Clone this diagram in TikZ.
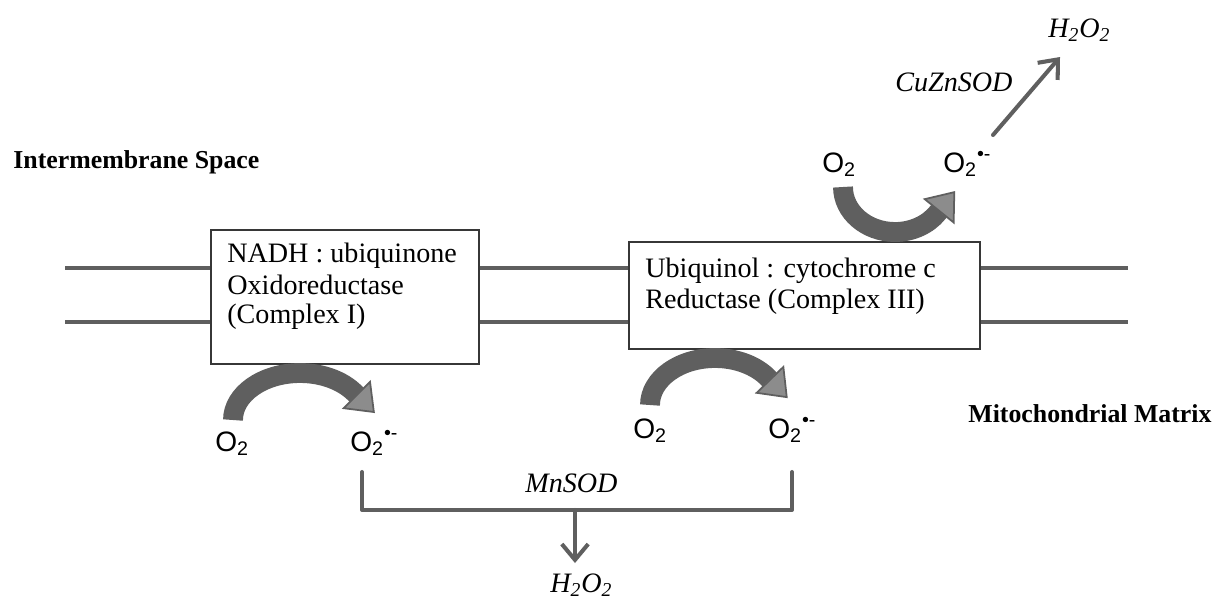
\documentclass[tikz,border=0pt]{standalone}
\usepackage{fontspec}
\setmainfont{Liberation Serif}
\newfontfamily\osans{Liberation Sans}
\usetikzlibrary{arrows.meta}
\definecolor{lg}{RGB}{95,95,95}
\definecolor{bx}{RGB}{55,55,55}
\definecolor{hd}{RGB}{140,140,140}
\tikzset{
 mem/.style={draw=lg, line width=2.3pt},
 cbox/.style={draw=bx, line width=0.9pt, fill=white, inner sep=0pt},
 btxt/.style={anchor=base west, inner sep=0pt, font=\fontsize{16}{18}\selectfont},
 side/.style={anchor=base west, inner sep=0pt, font=\bfseries\fontsize{14.7}{17}\selectfont},
 oxy/.style={anchor=base west, inner sep=0pt, font=\osans\fontsize{16}{18}\selectfont},
 enz/.style={anchor=base west, inner sep=0pt, font=\itshape\fontsize{16}{18}\selectfont},
 bendarrow/.style={draw=lg, line width=11.3pt, -{Triangle[width=23pt,length=15pt,line width=1pt,color=lg,fill=hd]}},
 thinline/.style={draw=lg, line width=2.3pt, line cap=round, line join=round},
 barb/.style={thinline, -{Straight Barb[width=15pt,length=9pt,line width=2.3pt]}}
}
\begin{document}
\begin{tikzpicture}[x=0.02cm,y=-0.02cm]
\useasboundingbox (0,0) rectangle (1219,603);
% complexes
\node[cbox, minimum width=5.36cm, minimum height=2.68cm] (b1) at (345,297) {};
\node[cbox, minimum width=7.02cm, minimum height=2.14cm] (b3) at (804.5,295.5) {};
% membrane
\coordinate (mlA) at (65,268); \coordinate (mlB) at (65,322);
\coordinate (mrA) at (1128,268); \coordinate (mrB) at (1128,322);
\draw[mem] (mlA) -- (b1.west |- mlA);
\draw[mem] (mlB) -- (b1.west |- mlB);
\draw[mem] (b1.east |- mlA) -- (b3.west |- mlA);
\draw[mem] (b1.east |- mlB) -- (b3.west |- mlB);
\draw[mem] (b3.east |- mrA) -- (mrA);
\draw[mem] (b3.east |- mrB) -- (mrB);
% box texts
\node[btxt] (t1a) at (227,262) {NADH : ubiquinone};
\node[btxt] (t1b) at (227,294) {Oxidoreductase};
\node[btxt] (t1c) at (227,323) {(Complex I)};
\node[btxt] (t3a) at (645,277) {Ubiquinol : cytochrome c};
\node[btxt] (t3b) at (645,308) {Reductase (Complex III)};
% side labels
\node[side] (ims) at (13,168) {Intermembrane Space};
\node[side] (mm) at (968,422) {Mitochondrial Matrix};
% oxygen labels
\node[oxy] (o1) at (215,451) {O\textsubscript{2}};
\node[oxy] (s1) at (350,451) {O\textsubscript{2}\textsuperscript{•-}};
\node[oxy] (o3) at (633,438) {O\textsubscript{2}};
\node[oxy] (s3) at (768,438) {O\textsubscript{2}\textsuperscript{•-}};
\node[oxy] (o0) at (822,172) {O\textsubscript{2}};
\node[oxy] (s0) at (943,172) {O\textsubscript{2}\textsuperscript{•-}};
% enzymes and products
\node[enz] (mn) at (525,492) {MnSOD};
\node[enz] (cz) at (895,91) {CuZnSOD};
\node[enz] (h2b) at (550,592) {H\textsubscript{2}O\textsubscript{2}};
\node[enz] (h2t) at (1048,37) {H\textsubscript{2}O\textsubscript{2}};
% curved arrows
\coordinate (a1) at (233,420);
\draw[bendarrow] (a1) arc[start angle=180,end angle=325,x radius=67,y radius=47] -- ++(20,20);
\coordinate (a3) at (650,405);
\draw[bendarrow] (a3) arc[start angle=180,end angle=325,x radius=65,y radius=47] -- ++(19.5,20.1);
\coordinate (a0) at (843,187);
\draw[bendarrow] (a0) arc[start angle=180,end angle=35,x radius=52,y radius=45] -- ++(17.6,-21.8);
% MnSOD bracket
\coordinate (k1) at (362,472); \coordinate (k2) at (792,472);
\coordinate (kc) at (575,510); \coordinate (kt) at (575,563);
\draw[thinline] (k1) -- (k1 |- kc) -- (k2 |- kc) -- (k2);
\draw[barb] (kc) -- (kt);
% CuZnSOD arrow
\coordinate (c1) at (993,135); \coordinate (c2) at (1060,57);
\draw[barb] (c1) -- (c2);
\end{tikzpicture}
\end{document}
